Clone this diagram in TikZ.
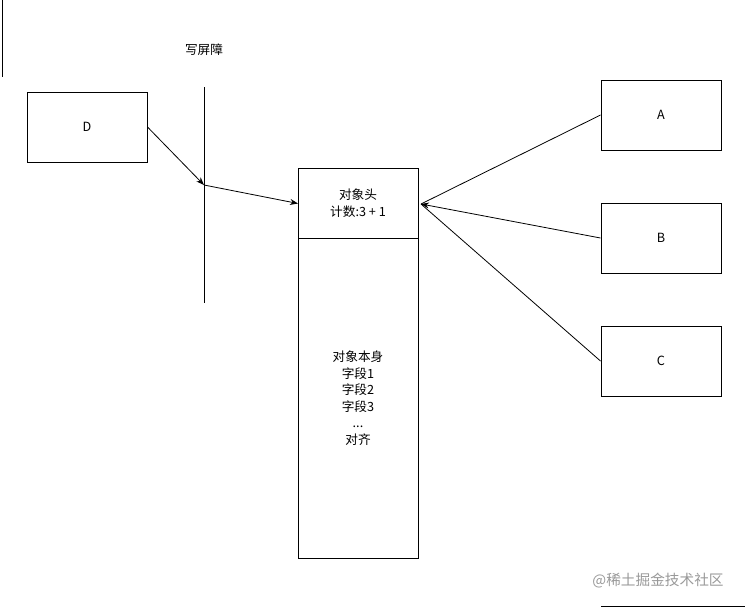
\documentclass[tikz,border=0pt]{standalone}
\usepackage{fontspec}
\setmainfont{Noto Sans CJK SC}
\usetikzlibrary{arrows.meta}
\begin{document}
\begin{tikzpicture}[x=0.75pt,y=-0.75pt,
  box/.style={draw,line width=0.75pt,minimum width=90pt,minimum height=52.5pt,inner sep=0pt,font=\fontsize{9.5}{11}\selectfont},
  lbl/.style={font=\fontsize{9.5}{12.4}\selectfont,align=center,inner sep=0pt},
  conn/.style={line width=0.6pt,-{Stealth[length=6pt,width=4.5pt]}},
  bar/.style={line width=0.75pt}]
\useasboundingbox (0,0) rectangle (745,608);
% top-left stray line
\coordinate (tl1) at (2,0);
\coordinate (tl2) at (2,77);
\draw[bar] (tl1) -- (tl2);
% barrier
\node[lbl] (wb) at (204,50) {写屏障};
\coordinate (b1) at (204,87);
\coordinate (b2) at (204,303);
\coordinate (bp) at (204,185);
\draw[bar] (b1) -- (b2);
% boxes
\node[box] (D) at (87,127) {D};
\node[box] (A) at (661,115) {A};
\node[box] (B) at (661,238) {B};
\node[box] (C) at (661,361) {C};
% object
\node[draw,line width=0.75pt,minimum width=90pt,minimum height=52.5pt,inner sep=0pt,anchor=north west] (hdr) at (298,168) {};
\node[draw,line width=0.75pt,minimum width=90pt,minimum height=240pt,inner sep=0pt,anchor=north west] (body) at (298,238) {};
\node[lbl] (ht) at (358,203) {对象头\\计数:3 + 1};
\node[lbl] (bt) at (358,398) {对象本身\\字段1\\字段2\\字段3\\...\\对齐};
\coordinate (hin) at (421,204);
% connectors
\draw[conn] (D.east) -- (bp);
\draw[conn] (bp) -- (hdr.west);
\draw[line width=0.6pt] (A.west) -- (hin);
\draw[line width=0.6pt] (C.west) -- (hin);
\draw[conn] (B.west) -- (hin);
% watermark
\node[lbl,text=black!40,font=\fontsize{11}{13}\selectfont] (wm) at (658,581) {@稀土掘金技术社区};
\coordinate (bl1) at (601,606);
\coordinate (bl2) at (745,606);
\draw[bar] (bl1) -- (bl2);
\end{tikzpicture}
\end{document}
